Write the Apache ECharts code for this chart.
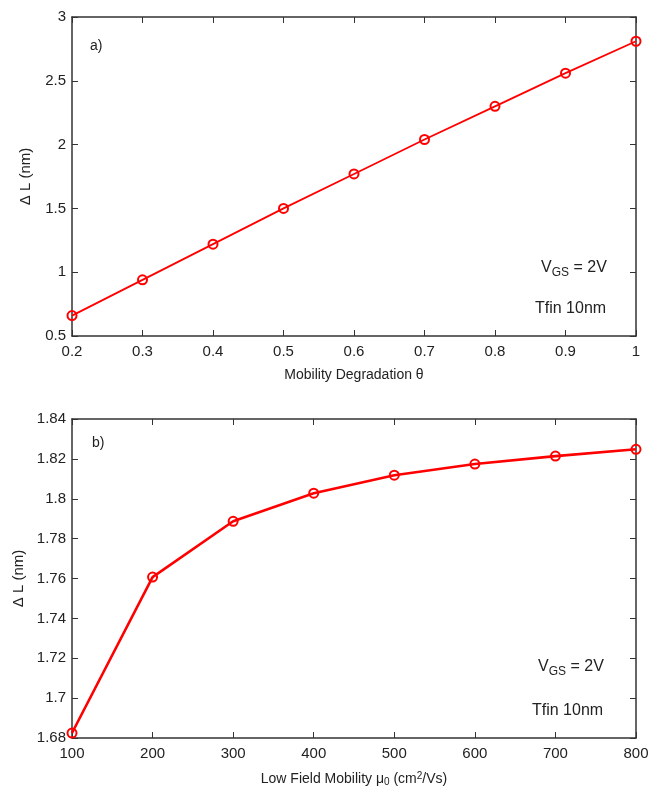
<!DOCTYPE html>
<html><head><meta charset="utf-8">
<script src="https://cdn.jsdelivr.net/npm/echarts@6/dist/echarts.min.js"></script>
<style>html,body{margin:0;padding:0;background:#fff}#c{width:648px;height:796px}</style>
</head><body><div id="c"></div>
<script>
const thetaX = [0.2, 0.3, 0.4, 0.5, 0.6, 0.7, 0.8, 0.9, 1.0];
const deltaLTheta = [0.66, 0.94, 1.22, 1.50, 1.77, 2.04, 2.30, 2.56, 2.81];
const mu0X = [100, 200, 300, 400, 500, 600, 700, 800];
const deltaLMu = [1.6825, 1.7607, 1.7887, 1.8028, 1.8118, 1.8174, 1.8214, 1.8248];

const FONT = '"Liberation Sans", Arial, sans-serif';
const axisCol = '#333';
const txtCol = '#222';
const red = '#ff0000';

function mainX(grid, min, max, interval, name, gap) {
  return {
    type: 'value', gridIndex: grid, min, max, interval, position: 'bottom',
    name, nameLocation: 'middle', nameGap: gap,
    nameTextStyle: { fontFamily: FONT, fontSize: 14, color: txtCol },
    axisLine: { show: true, lineStyle: { color: axisCol, width: 1.5 } },
    axisTick: { show: true, inside: true, length: 6, lineStyle: { color: axisCol } },
    axisLabel: { fontFamily: FONT, fontSize: 15, color: txtCol, margin: 8 },
    splitLine: { show: false }
  };
}
function mirrorX(grid, min, max, interval) {
  return {
    type: 'value', gridIndex: grid, min, max, interval, position: 'top',
    axisLine: { show: true, lineStyle: { color: axisCol, width: 1.5 } },
    axisTick: { show: true, inside: true, length: 6, lineStyle: { color: axisCol } },
    axisLabel: { show: false }, splitLine: { show: false }
  };
}
function mainY(grid, min, max, interval, name) {
  return {
    type: 'value', gridIndex: grid, min, max, interval, position: 'left',
    name, nameLocation: 'middle', nameGap: 39, nameRotate: 90,
    nameTextStyle: { fontFamily: FONT, fontSize: 15, color: txtCol },
    axisLine: { show: true, lineStyle: { color: axisCol, width: 1.5 } },
    axisTick: { show: true, inside: true, length: 6, lineStyle: { color: axisCol } },
    axisLabel: { fontFamily: FONT, fontSize: 15, color: txtCol, margin: 6 },
    splitLine: { show: false }
  };
}
function mirrorY(grid, min, max, interval) {
  return {
    type: 'value', gridIndex: grid, min, max, interval, position: 'right',
    axisLine: { show: true, lineStyle: { color: axisCol, width: 1.5 } },
    axisTick: { show: true, inside: true, length: 6, lineStyle: { color: axisCol } },
    axisLabel: { show: false }, splitLine: { show: false }
  };
}

const chart = echarts.init(document.getElementById('c'), null, { renderer: 'canvas' });
const bottomX = mainX(1, 100, 800, 100, '{n|Low Field Mobility μ}{sub|0}{n| (cm}{sup|2}{n|/Vs)}', 33);
bottomX.nameTextStyle = {
  fontFamily: FONT, fontSize: 14, color: txtCol,
  rich: {
    n: { fontFamily: FONT, fontSize: 14, color: txtCol },
    sub: { fontFamily: FONT, fontSize: 10, color: txtCol, verticalAlign: 'bottom', padding: [6, 0, 0, 0] },
    sup: { fontFamily: FONT, fontSize: 10, color: txtCol, verticalAlign: 'top', padding: [0, 0, 6, 0] }
  }
};
const bottomY = mainY(1, 1.68, 1.84, 0.02, 'Δ L (nm)');
bottomY.axisLabel = Object.assign({}, bottomY.axisLabel, { formatter: v => String(parseFloat(v.toFixed(2))) });

const option = {
  animation: false,
  backgroundColor: '#fff',
  grid: [
    { left: 72, right: 12, top: 17, height: 319, outerBoundsMode: 'none', containLabel: false },
    { left: 72, right: 12, top: 419, height: 319, outerBoundsMode: 'none', containLabel: false }
  ],
  xAxis: [
    mainX(0, 0.2, 1, 0.1, 'Mobility Degradation θ', 32),
    mirrorX(0, 0.2, 1, 0.1),
    bottomX,
    mirrorX(1, 100, 800, 100)
  ],
  yAxis: [
    mainY(0, 0.5, 3, 0.5, 'Δ L (nm)'),
    mirrorY(0, 0.5, 3, 0.5),
    bottomY,
    mirrorY(1, 1.68, 1.84, 0.02)
  ],
  series: [
    {
      type: 'line', xAxisIndex: 0, yAxisIndex: 0,
      data: thetaX.map((x, i) => [x, deltaLTheta[i]]),
      symbol: 'circle', symbolSize: 9,
      lineStyle: { color: red, width: 1.8 },
      itemStyle: { color: 'rgba(0,0,0,0)', borderColor: red, borderWidth: 2 }
    },
    {
      type: 'line', xAxisIndex: 2, yAxisIndex: 2,
      data: mu0X.map((x, i) => [x, deltaLMu[i]]),
      symbol: 'circle', symbolSize: 9,
      lineStyle: { color: red, width: 2.6 },
      itemStyle: { color: 'rgba(0,0,0,0)', borderColor: red, borderWidth: 2 }
    }
  ],
  graphic: [
    { type: 'text', left: 90, top: 39, style: { text: 'a)', font: '14px ' + FONT, fill: txtCol } },
    { type: 'text', left: 92, top: 436, style: { text: 'b)', font: '14px ' + FONT, fill: txtCol } },
    { type: 'text', left: 541, top: 260, style: {
      text: '{n|V}{sub|GS}{n| = 2V}', font: '16px ' + FONT, fill: txtCol,
      rich: { n: { fontSize: 16, fontFamily: FONT, fill: txtCol }, sub: { fontSize: 12, fontFamily: FONT, fill: txtCol, padding: [10, 0, 0, 0] } } } },
    { type: 'text', left: 535, top: 301, style: { text: 'Tfin 10nm', font: '16px ' + FONT, fill: txtCol } },
    { type: 'text', left: 538, top: 659, style: {
      text: '{n|V}{sub|GS}{n| = 2V}', font: '16px ' + FONT, fill: txtCol,
      rich: { n: { fontSize: 16, fontFamily: FONT, fill: txtCol }, sub: { fontSize: 12, fontFamily: FONT, fill: txtCol, padding: [10, 0, 0, 0] } } } },
    { type: 'text', left: 532, top: 703, style: { text: 'Tfin 10nm', font: '16px ' + FONT, fill: txtCol } }
  ]
};
chart.setOption(option);
</script></body></html>
